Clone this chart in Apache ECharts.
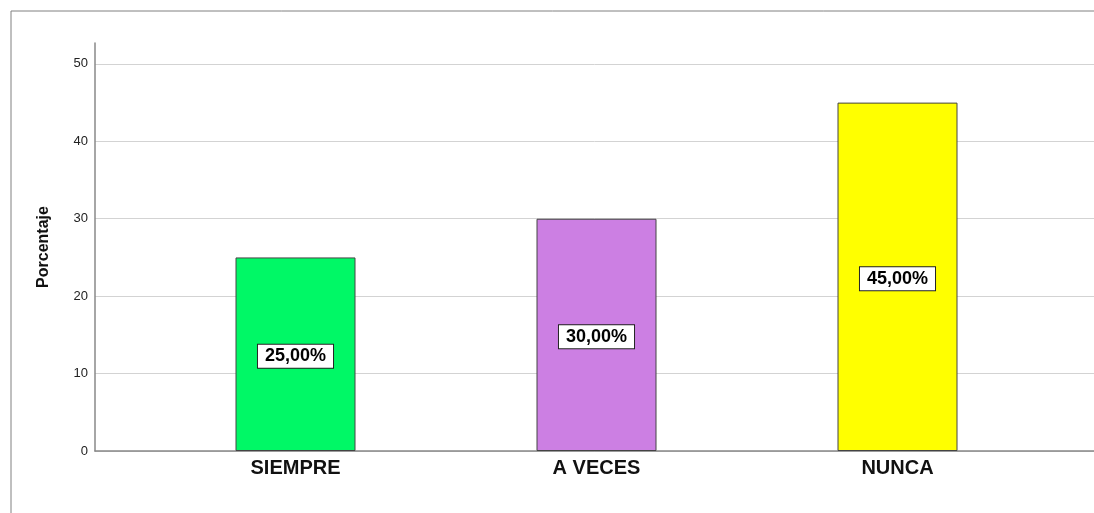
<!DOCTYPE html>
<html>
<head>
<meta charset="utf-8">
<script src="https://cdn.jsdelivr.net/npm/echarts@6/dist/echarts.min.js"></script>
<style>
  html, body { margin: 0; padding: 0; background: #fff; }
  #chart { width: 1094px; height: 513px; }
</style>
</head>
<body>
<div id="chart"></div>
<script>
// data
let categories = ['SIEMPRE', 'A VECES', 'NUNCA'];
let values = [25, 30, 45];
let barColors = ['#00F866', '#CC7FE3', '#FFFF00'];
let yTicks = [0, 10, 20, 30, 40, 50];

let myChart = echarts.init(document.getElementById('chart'));

let option = {
    backgroundColor: '#fff',
    animation: false,
    textStyle: { fontFamily: 'Liberation Sans, Arial, sans-serif' },
    graphic: [
        // outer frame, top and left edge only
        { type: 'line', shape: { x1: 11, y1: 11, x2: 1094, y2: 11 }, style: { stroke: '#808080', lineWidth: 1 } },
        { type: 'line', shape: { x1: 11, y1: 11, x2: 11, y2: 513 }, style: { stroke: '#808080', lineWidth: 1 } }
    ],
    grid: [
        { left: 95, right: 0, top: 43, bottom: 62 },
        { left: 145, width: 903, top: 43, bottom: 62 }
    ],
    xAxis: [
        {
            gridIndex: 0, type: 'value', min: 0, max: 1,
            axisLine: { show: true, lineStyle: { color: '#888', width: 1.5 } },
            axisTick: { show: false }, axisLabel: { show: false }, splitLine: { show: false }
        },
        {
            gridIndex: 1, type: 'category', data: categories,
            axisLine: { show: false }, axisTick: { show: false },
            axisLabel: { color: '#111', fontSize: 20, fontWeight: 'bold', margin: 7 }
        }
    ],
    yAxis: [
        {
            gridIndex: 0, type: 'value', min: 0, max: 52.7, interval: 10,
            name: 'Porcentaje', nameLocation: 'middle', nameGap: 43,
            nameTextStyle: { color: '#111', fontSize: 16, fontWeight: 'bold' },
            axisLine: { show: true, lineStyle: { color: '#888', width: 1.5 } },
            axisTick: { show: false },
            axisLabel: {
                color: '#222', fontSize: 13, margin: 7,
                formatter: v => (yTicks.indexOf(v) >= 0 ? String(v) : '')
            },
            splitLine: { show: true, showMaxLine: false, lineStyle: { color: '#d3d3d3', width: 1 } }
        },
        {
            gridIndex: 1, type: 'value', min: 0, max: 52.7, show: false
        }
    ],
    series: [
        {
            type: 'bar',
            xAxisIndex: 1, yAxisIndex: 1,
            barWidth: 120,
            data: values.map((v, i) => ({
                value: v,
                itemStyle: { color: barColors[i], borderColor: '#444', borderWidth: 1 }
            })),
            label: {
                show: true,
                position: 'inside',
                offset: [0, 2],
                formatter: p => p.value.toFixed(2).replace('.', ',') + '%',
                color: '#000',
                fontSize: 18,
                fontWeight: 'bold',
                backgroundColor: '#fff',
                borderColor: '#222',
                borderWidth: 1,
                padding: [3, 7, 2, 7]
            }
        }
    ]
};

myChart.setOption(option);
</script>
</body>
</html>
